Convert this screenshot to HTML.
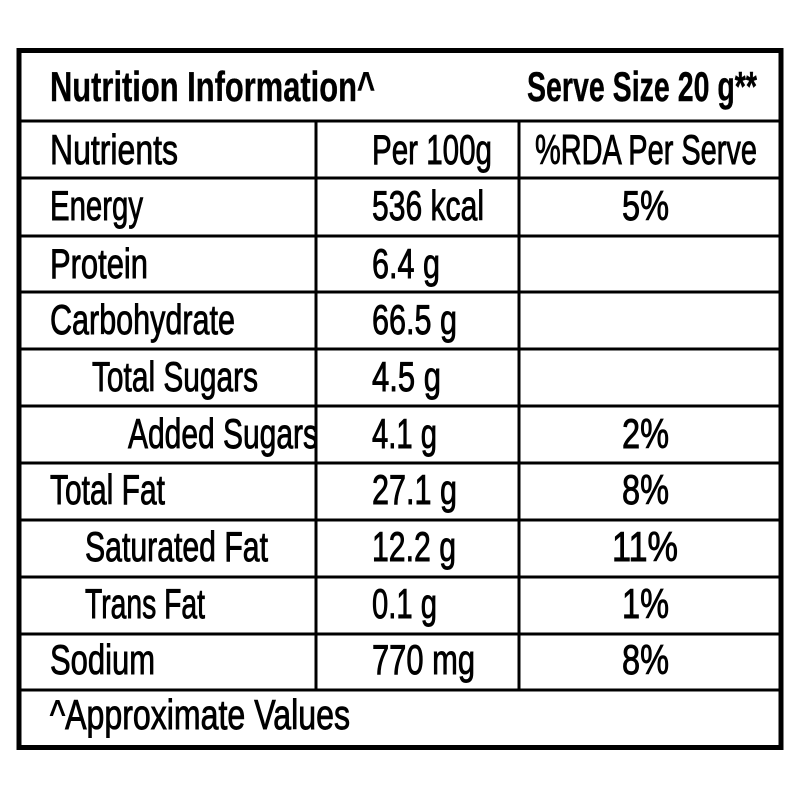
<!DOCTYPE html>
<html><head><meta charset="utf-8"><style>
html,body{margin:0;padding:0;background:#fff;width:800px;height:800px;overflow:hidden}
svg text{font-family:"Liberation Sans Narrow","Liberation Sans",sans-serif;font-size:42px;fill:#000;stroke:#000;stroke-width:0.9px}
.b{font-weight:bold;stroke-width:0.4px}
</style></head><body>
<svg width="800" height="800" xmlns="http://www.w3.org/2000/svg">
<rect x="0" y="0" width="800" height="800" fill="#fff"/>
<rect x="19" y="50.5" width="762" height="697" fill="none" stroke="#000" stroke-width="5"/>
<g stroke="#000" stroke-width="3">
<line x1="19" y1="121" x2="781" y2="121"/>
<line x1="19" y1="178" x2="781" y2="178"/>
<line x1="19" y1="236" x2="781" y2="236"/>
<line x1="19" y1="292" x2="781" y2="292"/>
<line x1="19" y1="349" x2="781" y2="349"/>
<line x1="19" y1="406" x2="781" y2="406"/>
<line x1="19" y1="463" x2="781" y2="463"/>
<line x1="19" y1="520" x2="781" y2="520"/>
<line x1="19" y1="577" x2="781" y2="577"/>
<line x1="19" y1="634" x2="781" y2="634"/>
<line x1="19" y1="690" x2="781" y2="690"/>
<line x1="316" y1="121" x2="316" y2="690"/>
<line x1="519" y1="121" x2="519" y2="690"/>
</g>
<g>
<text class="b" x="50" y="101" textLength="325" lengthAdjust="spacingAndGlyphs">Nutrition Information^</text>
<text class="b" x="527" y="101" textLength="230" lengthAdjust="spacingAndGlyphs">Serve Size 20 g**</text>
<text x="50" y="164" textLength="128" lengthAdjust="spacingAndGlyphs">Nutrients</text>
<text x="372" y="164" textLength="120" lengthAdjust="spacingAndGlyphs">Per 100g</text>
<text x="535" y="164" textLength="222" lengthAdjust="spacingAndGlyphs">%RDA Per Serve</text>
<text x="50" y="220" textLength="93" lengthAdjust="spacingAndGlyphs">Energy</text>
<text x="372" y="220" textLength="112" lengthAdjust="spacingAndGlyphs">536 kcal</text>
<text x="622" y="220" textLength="47" lengthAdjust="spacingAndGlyphs">5%</text>
<text x="50" y="278" textLength="98" lengthAdjust="spacingAndGlyphs">Protein</text>
<text x="372" y="278" textLength="68" lengthAdjust="spacingAndGlyphs">6.4 g</text>
<text x="50" y="334" textLength="185" lengthAdjust="spacingAndGlyphs">Carbohydrate</text>
<text x="372" y="334" textLength="85" lengthAdjust="spacingAndGlyphs">66.5 g</text>
<text x="92" y="391" textLength="166" lengthAdjust="spacingAndGlyphs">Total Sugars</text>
<text x="372" y="391" textLength="69" lengthAdjust="spacingAndGlyphs">4.5 g</text>
<text x="128" y="448" textLength="190" lengthAdjust="spacingAndGlyphs">Added Sugars</text>
<text x="372" y="448" textLength="65" lengthAdjust="spacingAndGlyphs">4.1 g</text>
<text x="622" y="448" textLength="47" lengthAdjust="spacingAndGlyphs">2%</text>
<text x="50" y="504" textLength="115" lengthAdjust="spacingAndGlyphs">Total Fat</text>
<text x="372" y="504" textLength="85" lengthAdjust="spacingAndGlyphs">27.1 g</text>
<text x="622" y="504" textLength="47" lengthAdjust="spacingAndGlyphs">8%</text>
<text x="85" y="561" textLength="183" lengthAdjust="spacingAndGlyphs">Saturated Fat</text>
<text x="372" y="561" textLength="84" lengthAdjust="spacingAndGlyphs">12.2 g</text>
<text x="612" y="561" textLength="66" lengthAdjust="spacingAndGlyphs">11%</text>
<text x="85" y="618" textLength="120" lengthAdjust="spacingAndGlyphs">Trans Fat</text>
<text x="372" y="618" textLength="65" lengthAdjust="spacingAndGlyphs">0.1 g</text>
<text x="622" y="618" textLength="47" lengthAdjust="spacingAndGlyphs">1%</text>
<text x="50" y="674" textLength="105" lengthAdjust="spacingAndGlyphs">Sodium</text>
<text x="372" y="674" textLength="103" lengthAdjust="spacingAndGlyphs">770 mg</text>
<text x="622" y="674" textLength="47" lengthAdjust="spacingAndGlyphs">8%</text>
<text x="50" y="729" textLength="300" lengthAdjust="spacingAndGlyphs">^Approximate Values</text>
</g>
</svg>
</body></html>
